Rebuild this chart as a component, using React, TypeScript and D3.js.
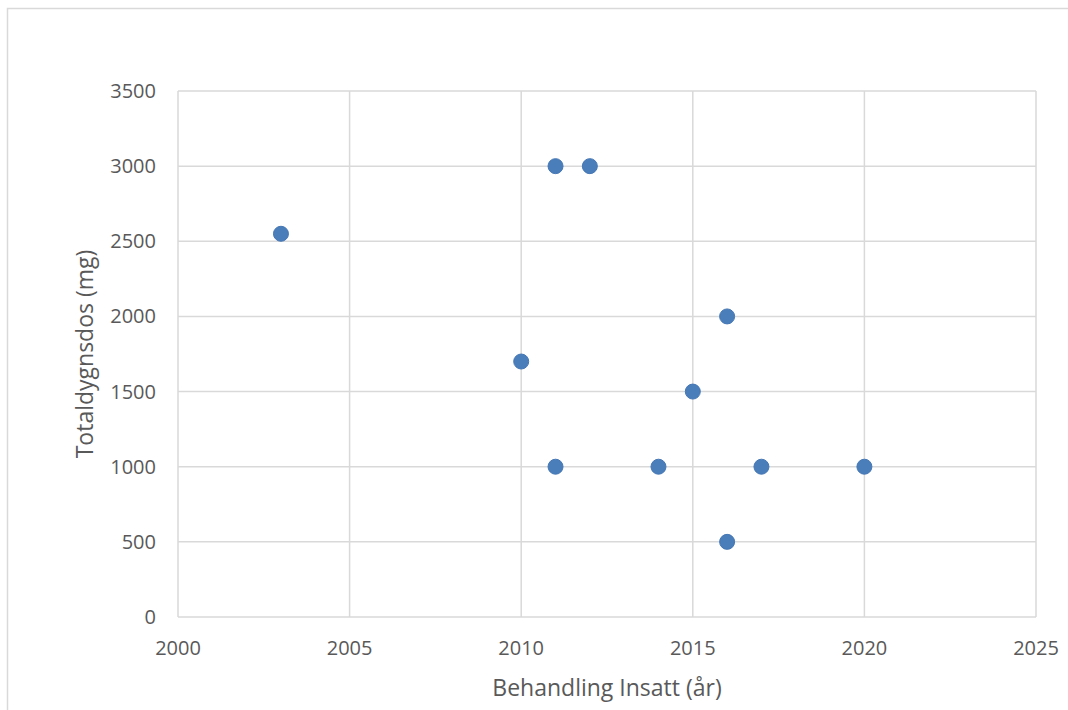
import React from "react";
import * as d3 from "d3";

const years = [2003, 2011, 2012, 2016, 2010, 2015, 2011, 2014, 2017, 2020, 2016];
const doses = [2550, 3000, 3000, 2000, 1700, 1500, 1000, 1000, 1000, 1000, 500];
const xTicks = [2000, 2005, 2010, 2015, 2020, 2025];
const yTicks = [0, 500, 1000, 1500, 2000, 2500, 3000, 3500];
const xTitle = "Behandling Insatt (år)";
const yTitle = "Totaldygnsdos (mg)";

export default function App() {
  const W = 1068, H = 710;
  const left = 178, right = 1036, top = 91, bottom = 617;
  const x = d3.scaleLinear().domain([2000, 2025]).range([left, right]);
  const y = d3.scaleLinear().domain([0, 3500]).range([bottom, top]);
  const font = "'Open Sans', 'Noto Sans', sans-serif";
  return (
    <svg width={W} height={H} style={{ position: "absolute", left: 0, top: 0, background: "#fff" }}>
      <rect x={7.5} y={8.5} width={W + 10} height={H + 10} fill="#fff" stroke="#d9d9d9" strokeWidth={1.5} />
      {yTicks.map((t) => (
        <line key={"gy" + t} x1={left} x2={right} y1={y(t)} y2={y(t)} stroke="#d9d9d9" strokeWidth={1.5} />
      ))}
      {xTicks.map((t) => (
        <line key={"gx" + t} x1={x(t)} x2={x(t)} y1={top} y2={bottom} stroke="#d9d9d9" strokeWidth={1.5} />
      ))}
      {yTicks.map((t) => (
        <text key={"ty" + t} x={left - 22} y={y(t)} dy="0.35em" textAnchor="end" fontSize={20} fill="#595959" fontFamily={font}>
          {t}
        </text>
      ))}
      {xTicks.map((t) => (
        <text key={"tx" + t} x={x(t)} y={bottom + 31} dy="0.35em" textAnchor="middle" fontSize={20} fill="#595959" fontFamily={font}>
          {t}
        </text>
      ))}
      <text x={(left + right) / 2} y={688} dy="0.35em" textAnchor="middle" fontSize={23} fill="#595959" fontFamily={font}>
        {xTitle}
      </text>
      <text transform={`translate(85,${(top + bottom) / 2}) rotate(-90)`} dy="0.35em" textAnchor="middle" fontSize={23} fill="#595959" fontFamily={font}>
        {yTitle}
      </text>
      {years.map((yr, i) => (
        <circle key={"p" + i} cx={x(yr)} cy={y(doses[i])} r={7.5} fill="#4a7ebb" stroke="#4577b5" strokeWidth={1} />
      ))}
    </svg>
  );
}
